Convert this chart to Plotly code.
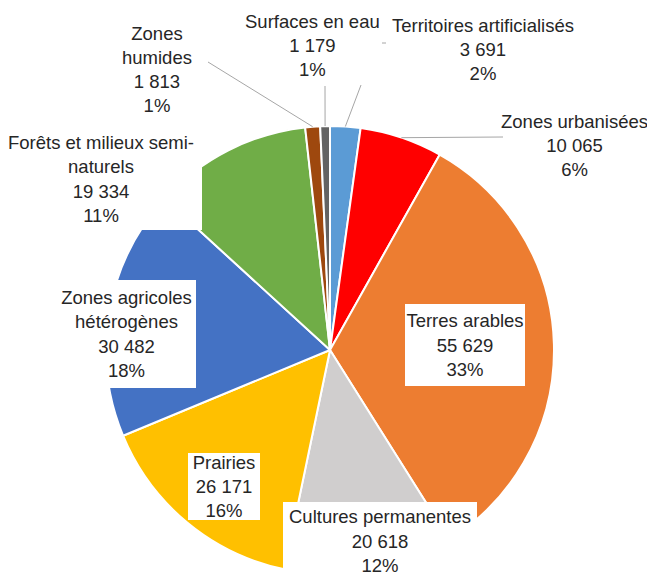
import math
import plotly.graph_objects as go

# data
labels = ["Territoires artificialisés", "Zones urbanisées", "Terres arables",
          "Cultures permanentes", "Prairies", "Zones agricoles hétérogènes",
          "Forêts et milieux semi-naturels", "Zones humides", "Surfaces en eau"]
values = [3691, 10065, 55629, 20618, 26171, 30482, 19334, 1813, 1179]
pct_labels = ["2%", "6%", "33%", "12%", "16%", "18%", "11%", "1%", "1%"]
colors = ["#5B9BD5", "#FF0000", "#ED7D31", "#D0CECE", "#FFC000",
          "#4472C4", "#70AD47", "#9E480E", "#636363"]

W, H = 655, 576
OFF = 8  # the page body margin shifts the figure by 8px
CX, CY, R = 330, 350, 224  # pie centre / radius in px (page coords)


def px(x, y):
    return (x - OFF) / W, 1 - (y - OFF) / H


def fmt(v):
    return f"{v:,}".replace(",", " ")


# how each label is written and placed (px): name text, centre x, centre y, box w, box h
label_layout = [
    ("Territoires artificialisés", 483, 49, None, None),
    ("Zones urbanisées", 574, 145, None, None),
    ("Terres arables", 465, 345, 120, 82),
    ("Cultures permanentes", 380, 541, 194, 78),
    ("Prairies", 224, 486, 72, 67),
    ("Zones agricoles<br>hétérogènes", 127, 334, 139, 108),
    ("Forêts et milieux semi-<br>naturels", 101, 179, 202, 102),
    ("Zones<br>humides", 157, 70, None, None),
    ("Surfaces en eau", 312, 45, None, None),
]
# outer end of leader lines (px), None = no leader
leader_ends = [(361, 85), (503, 137), None, None, None, None, None, (208, 62), (325, 86)]

fig = go.Figure()
x0, y0 = px(CX - R, CY + R)
x1, y1 = px(CX + R, CY - R)
fig.add_trace(go.Pie(labels=labels, values=values, sort=False, direction="clockwise",
                     rotation=0, textinfo="none", hoverinfo="label+value+percent",
                     marker=dict(colors=colors, line=dict(color="white", width=2)),
                     domain=dict(x=[x0, x1], y=[y0, y1]), showlegend=False))

total = sum(values)
cum = 0
for i, v in enumerate(values):
    mid = (cum + v / 2) / total * 2 * math.pi
    cum += v
    end = leader_ends[i]
    if end is None:
        continue
    sx, sy = CX + R * math.sin(mid), CY - R * math.cos(mid)
    ax, ay = px(*end)
    bx, by = px(sx, sy)
    fig.add_shape(type="line", xref="paper", yref="paper", x0=ax, y0=ay, x1=bx, y1=by,
                  line=dict(color="#A6A6A6", width=1))

# small stray leader fragment next to "Territoires artificialisés"
fx0, fy = px(382, 43)
fx1, _ = px(386, 43)
fig.add_shape(type="line", xref="paper", yref="paper", x0=fx0, y0=fy, x1=fx1, y1=fy,
              line=dict(color="#A6A6A6", width=1))

for i, (name, lx, ly, bw, bh) in enumerate(label_layout):
    ax, ay = px(lx, ly)
    ann = dict(x=ax, y=ay, xref="paper", yref="paper", xanchor="center", yanchor="middle",
               text=f"{name}<br>{fmt(values[i])}<br>{pct_labels[i]}", showarrow=False,
               font=dict(family="Liberation Sans, Arial", size=18.5, color="#262626"),
               align="center", borderpad=0, borderwidth=0)
    if bw:
        ann.update(width=bw, height=bh, bgcolor="white", valign="middle")
    fig.add_annotation(**ann)

fig.update_layout(width=W, height=H, margin=dict(l=0, r=0, t=0, b=0),
                  paper_bgcolor="white", plot_bgcolor="white")
fig.write_html("out.html")
